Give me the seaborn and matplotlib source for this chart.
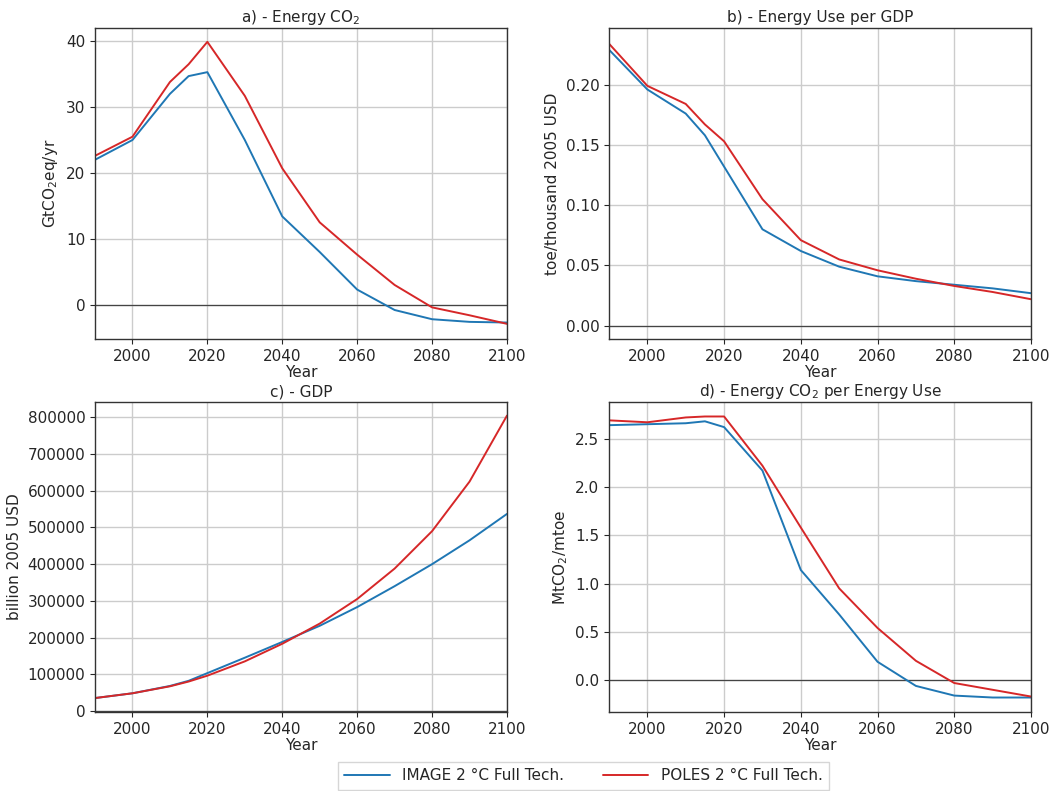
import numpy as np
import pandas as pd
import matplotlib
matplotlib.use("Agg")
import matplotlib.pyplot as plt
import seaborn as sns

years = [1990, 2000, 2010, 2015, 2020, 2030, 2040, 2050, 2060, 2070, 2080, 2090, 2100]
models = ["IMAGE 2 °C Full Tech.", "POLES 2 °C Full Tech."]

co2_image = [22.0, 25.0, 32.0, 34.7, 35.3, 25.0, 13.4, 8.0, 2.3, -0.8, -2.2, -2.6, -2.7]
co2_poles = [22.6, 25.5, 33.8, 36.5, 39.9, 31.7, 20.7, 12.5, 7.6, 3.0, -0.4, -1.6, -2.9]

eint_image = [0.229, 0.196, 0.176, 0.158, 0.132, 0.080, 0.062, 0.049, 0.041, 0.037, 0.034, 0.031, 0.027]
eint_poles = [0.234, 0.199, 0.184, 0.167, 0.153, 0.105, 0.071, 0.055, 0.046, 0.039, 0.033, 0.028, 0.022]

gdp_image = [35000, 48000, 68000, 82000, 103000, 145000, 188000, 232000, 283000, 340000, 400000, 465000, 537000]
gdp_poles = [35000, 48000, 67000, 80000, 96000, 135000, 183000, 238000, 305000, 388000, 490000, 625000, 805000]

cint_image = [2.64, 2.65, 2.66, 2.68, 2.62, 2.17, 1.14, 0.68, 0.19, -0.06, -0.16, -0.18, -0.18]
cint_poles = [2.69, 2.67, 2.72, 2.73, 2.73, 2.22, 1.58, 0.95, 0.54, 0.20, -0.03, -0.10, -0.17]

palette = {models[0]: "#1f77b4", models[1]: "#d62728"}

sns.set_style("ticks")
plt.rcParams["font.family"] = ["DejaVu Sans"]
plt.rcParams["font.size"] = 11


def make_df(a, b):
    return pd.DataFrame({
        "Year": years * 2,
        "value": a + b,
        "model": [models[0]] * len(years) + [models[1]] * len(years),
    })


panels = [
    (make_df(co2_image, co2_poles), "a) - Energy CO$_2$", "GtCO$_2$eq/yr", (-5.2, 42), None),
    (make_df(eint_image, eint_poles), "b) - Energy Use per GDP", "toe/thousand 2005 USD", (-0.011, 0.247), None),
    (make_df(gdp_image, gdp_poles), "c) - GDP", "billion 2005 USD", (-3000, 842000), None),
    (make_df(cint_image, cint_poles), "d) - Energy CO$_2$ per Energy Use", "MtCO$_2$/mtoe", (-0.33, 2.88), None),
]

fig = plt.figure(figsize=(10.57, 7.91), dpi=100)
W, H = 1057, 791
boxes = [(95, 28, 507, 339), (609, 28, 1031, 339), (95, 402, 507, 712), (609, 402, 1031, 712)]

for (df, title, ylabel, ylim, _), (l, t, r, b) in zip(panels, boxes):
    ax = fig.add_axes([l / W, 1 - b / H, (r - l) / W, (b - t) / H])
    sns.lineplot(data=df, x="Year", y="value", hue="model", palette=palette,
                 linewidth=1.4, ax=ax, legend=False)
    ax.axhline(0, color="#444444", linewidth=0.9, zorder=1)
    ax.set_xlim(1990, 2100)
    ax.set_ylim(*ylim)
    ax.set_xticks([2000, 2020, 2040, 2060, 2080, 2100])
    ax.grid(True, color="#cccccc", linewidth=1.0)
    ax.set_axisbelow(True)
    ax.set_title(title, fontsize=11, pad=4)
    ax.set_xlabel("Year", fontsize=11, labelpad=1)
    ax.set_ylabel(ylabel, fontsize=11)
    ax.tick_params(labelsize=11, length=3.5)
    for s in ax.spines.values():
        s.set_color("#333333")
        s.set_linewidth(1.0)

handles = [plt.Line2D([], [], color=palette[m], linewidth=1.4) for m in models]
fig.legend(handles, models, loc="center", bbox_to_anchor=(0.552, 1 - 776 / H), ncol=2,
           fontsize=11, frameon=True, handlelength=3, columnspacing=2.5,
           fancybox=False, edgecolor="#cccccc")

fig.savefig("out.png", dpi=100, facecolor="white")
